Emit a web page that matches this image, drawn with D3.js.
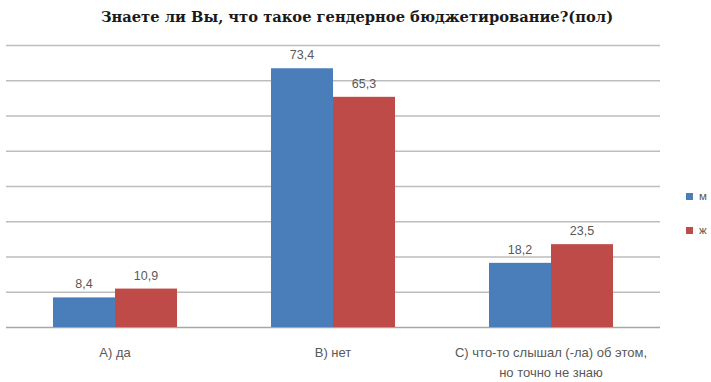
<!DOCTYPE html>
<html><head><meta charset="utf-8">
<script src="https://cdn.jsdelivr.net/npm/d3@7"></script>
<style>body{margin:0;background:#fff}svg{display:block}</style>
</head><body>
<svg id="c" width="711" height="382"></svg>
<script>
const title = "Знаете ли Вы, что такое гендерное бюджетирование?(пол)";
const categories = [["А) да"], ["В) нет"], ["С) что-то слышал (-ла) об этом,", "но точно не знаю"]];
const seriesNames = ["м", "ж"];
const seriesColors = ["#4A7EBB", "#BE4B48"];
const valuesM = [8.4, 73.4, 18.2];
const valuesZh = [10.9, 65.3, 23.5];
const yTicks = [0, 10, 20, 30, 40, 50, 60, 70, 80];

const svg = d3.select("#c");
const W = 711, H = 382;
const m = {left: 6, right: 51, top: 45, bottom: 55};
const x0 = d3.scaleBand().domain(d3.range(categories.length)).range([m.left, W - m.right]).paddingInner(0).paddingOuter(0);
const x1 = d3.scaleBand().domain(d3.range(seriesNames.length)).range([0, x0.bandwidth()]).paddingInner(0).paddingOuter(0.758);
const y = d3.scaleLinear().domain([0, 80]).range([H - m.bottom, m.top]);

svg.append("text").attr("x", 357).attr("y", 22).attr("text-anchor", "middle")
  .attr("font-family", "'DejaVu Serif', 'Liberation Serif', serif").attr("font-weight", "bold")
  .attr("font-size", 14.7).attr("fill", "#1a1a1a").text(title);

svg.append("g").selectAll("line").data(yTicks).join("line")
  .attr("x1", m.left).attr("x2", W - m.right)
  .attr("y1", d => y(d) + 0.5).attr("y2", d => y(d) + 0.5)
  .attr("stroke", d => d === 0 ? "#a6a6a6" : "#bdbdbd").attr("stroke-width", 1.5);

const series = [valuesM, valuesZh];
const g = svg.append("g");
series.forEach((vals, si) => {
  g.selectAll(null).data(vals).join("rect")
    .attr("x", (d, i) => x0(i) + x1(si))
    .attr("y", d => y(d))
    .attr("width", x1.bandwidth())
    .attr("height", d => y(0) - y(d))
    .attr("fill", seriesColors[si]);
  g.selectAll(null).data(vals).join("text")
    .attr("x", (d, i) => x0(i) + x1(si) + x1.bandwidth() / 2)
    .attr("y", d => y(d) - 9)
    .attr("text-anchor", "middle")
    .attr("font-family", "Liberation Sans, Arial, sans-serif").attr("font-size", 12.5)
    .attr("fill", "#595959")
    .text(d => String(d).replace(".", ","));
});

const xl = svg.append("g");
categories.forEach((lines, i) => {
  const t = xl.append("text").attr("text-anchor", "middle")
    .attr("font-family", "Liberation Sans, Arial, sans-serif")
    .attr("font-size", 13).attr("fill", "#595959");
  lines.forEach((ln, k) => {
    t.append("tspan").attr("x", x0(i) + x0.bandwidth() / 2).attr("y", 357 + k * 20).text(ln);
  });
});

const lg = svg.append("g");
seriesNames.forEach((n, i) => {
  const yy = 193 + i * 34;
  lg.append("rect").attr("x", 686).attr("y", yy).attr("width", 7).attr("height", 7).attr("fill", seriesColors[i]);
  lg.append("text").attr("x", 699).attr("y", yy + 7).attr("font-family", "Liberation Sans, Arial, sans-serif")
    .attr("font-size", 11.5).attr("fill", "#595959").text(n);
});
</script>
</body></html>
